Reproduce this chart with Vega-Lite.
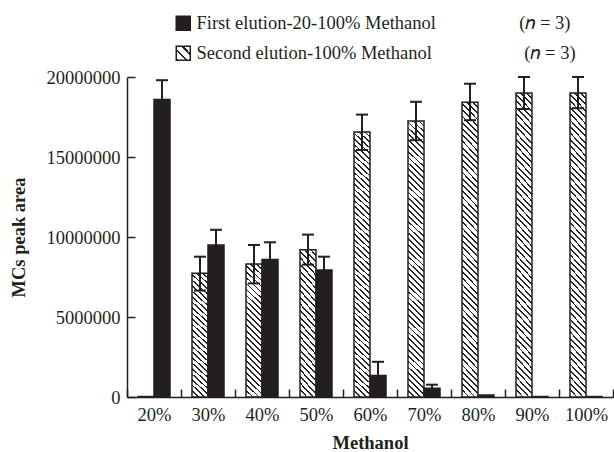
{
  "$schema": "https://vega.github.io/schema/vega-lite/v6.json",
  "width": 486,
  "height": 320,
  "autosize": {"type": "none"},
  "padding": {"left": 127, "top": 77, "right": 1, "bottom": 55},
  "background": "white",
  "config": {
    "view": {"stroke": null},
    "font": "Liberation Serif",
    "axis": {
      "grid": false,
      "domainColor": "#231f20",
      "domainWidth": 1.5,
      "tickColor": "#231f20",
      "tickWidth": 1.5,
      "tickSize": -8,
      "labelFont": "Liberation Serif",
      "labelFontSize": 18.5,
      "labelColor": "#231f20",
      "titleFont": "Liberation Serif",
      "titleFontSize": 18.5,
      "titleFontWeight": "bold",
      "titleColor": "#231f20"
    }
  },
  "data": {
    "values": [
      {"conc": "20%", "series": "Second elution-100% Methanol", "value": 30000, "lo": null, "hi": null},
      {"conc": "30%", "series": "Second elution-100% Methanol", "value": 7730000, "lo": 6650000, "hi": 8770000},
      {"conc": "40%", "series": "Second elution-100% Methanol", "value": 8310000, "lo": 7100000, "hi": 9500000},
      {"conc": "50%", "series": "Second elution-100% Methanol", "value": 9200000, "lo": 8270000, "hi": 10150000},
      {"conc": "60%", "series": "Second elution-100% Methanol", "value": 16560000, "lo": 15440000, "hi": 17650000},
      {"conc": "70%", "series": "Second elution-100% Methanol", "value": 17250000, "lo": 16050000, "hi": 18450000},
      {"conc": "80%", "series": "Second elution-100% Methanol", "value": 18420000, "lo": 17300000, "hi": 19580000},
      {"conc": "90%", "series": "Second elution-100% Methanol", "value": 19000000, "lo": 18000000, "hi": 20000000},
      {"conc": "100%", "series": "Second elution-100% Methanol", "value": 19000000, "lo": 18050000, "hi": 20000000},
      {"conc": "20%", "series": "First elution-20-100% Methanol", "value": 18600000, "lo": 17400000, "hi": 19800000},
      {"conc": "30%", "series": "First elution-20-100% Methanol", "value": 9500000, "lo": 8550000, "hi": 10450000},
      {"conc": "40%", "series": "First elution-20-100% Methanol", "value": 8600000, "lo": 7550000, "hi": 9670000},
      {"conc": "50%", "series": "First elution-20-100% Methanol", "value": 7940000, "lo": 7100000, "hi": 8770000},
      {"conc": "60%", "series": "First elution-20-100% Methanol", "value": 1350000, "lo": 500000, "hi": 2200000},
      {"conc": "70%", "series": "First elution-20-100% Methanol", "value": 540000, "lo": 300000, "hi": 770000},
      {"conc": "80%", "series": "First elution-20-100% Methanol", "value": 120000, "lo": null, "hi": null},
      {"conc": "90%", "series": "First elution-20-100% Methanol", "value": 30000, "lo": null, "hi": null},
      {"conc": "100%", "series": "First elution-20-100% Methanol", "value": 30000, "lo": null, "hi": null}
    ]
  },
  "encoding": {
    "x": {
      "field": "conc",
      "type": "nominal",
      "sort": ["20%", "30%", "40%", "50%", "60%", "70%", "80%", "90%", "100%"],
      "scale": {"paddingInner": 0, "paddingOuter": 0},
      "axis": {"title": "Methanol", "labelAngle": 0, "tickBand": "extent", "labelPadding": 16, "titlePadding": 10}
    },
    "xOffset": {
      "field": "series",
      "type": "nominal",
      "scale": {"domain": ["Second elution-100% Methanol", "First elution-20-100% Methanol"], "paddingInner": 0, "paddingOuter": 0.6875}
    }
  },
  "layer": [
    {
      "mark": {"type": "bar", "stroke": "#231f20", "strokeWidth": 1.5},
      "encoding": {
        "y": {
          "field": "value",
          "type": "quantitative",
          "scale": {"domain": [0, 20000000], "nice": false},
          "axis": {"title": "MCs peak area", "values": [0, 5000000, 10000000, 15000000, 20000000], "format": "d", "labelPadding": 15, "titlePadding": 18}
        },
        "fill": {
          "condition": [
            {
              "test": "datum.series === 'Second elution-100% Methanol' && datum.value > 12000000",
              "value": {
                "gradient": "linear", "x1": 0, "y1": 1, "x2": 0.0591, "y2": -0.0528,
                "stops": [
                  {"offset": 0, "color": "#222"}, {"offset": 0.006, "color": "#222"}, {"offset": 0.006, "color": "#fff"}, {"offset": 0.02, "color": "#fff"},
                  {"offset": 0.02, "color": "#222"}, {"offset": 0.026, "color": "#222"}, {"offset": 0.026, "color": "#fff"}, {"offset": 0.04, "color": "#fff"},
                  {"offset": 0.04, "color": "#222"}, {"offset": 0.046, "color": "#222"}, {"offset": 0.046, "color": "#fff"}, {"offset": 0.06, "color": "#fff"},
                  {"offset": 0.06, "color": "#222"}, {"offset": 0.066, "color": "#222"}, {"offset": 0.066, "color": "#fff"}, {"offset": 0.08, "color": "#fff"},
                  {"offset": 0.08, "color": "#222"}, {"offset": 0.086, "color": "#222"}, {"offset": 0.086, "color": "#fff"}, {"offset": 0.1, "color": "#fff"},
                  {"offset": 0.1, "color": "#222"}, {"offset": 0.106, "color": "#222"}, {"offset": 0.106, "color": "#fff"}, {"offset": 0.12, "color": "#fff"},
                  {"offset": 0.12, "color": "#222"}, {"offset": 0.126, "color": "#222"}, {"offset": 0.126, "color": "#fff"}, {"offset": 0.14, "color": "#fff"},
                  {"offset": 0.14, "color": "#222"}, {"offset": 0.146, "color": "#222"}, {"offset": 0.146, "color": "#fff"}, {"offset": 0.16, "color": "#fff"},
                  {"offset": 0.16, "color": "#222"}, {"offset": 0.166, "color": "#222"}, {"offset": 0.166, "color": "#fff"}, {"offset": 0.18, "color": "#fff"},
                  {"offset": 0.18, "color": "#222"}, {"offset": 0.186, "color": "#222"}, {"offset": 0.186, "color": "#fff"}, {"offset": 0.2, "color": "#fff"},
                  {"offset": 0.2, "color": "#222"}, {"offset": 0.206, "color": "#222"}, {"offset": 0.206, "color": "#fff"}, {"offset": 0.22, "color": "#fff"},
                  {"offset": 0.22, "color": "#222"}, {"offset": 0.226, "color": "#222"}, {"offset": 0.226, "color": "#fff"}, {"offset": 0.24, "color": "#fff"},
                  {"offset": 0.24, "color": "#222"}, {"offset": 0.246, "color": "#222"}, {"offset": 0.246, "color": "#fff"}, {"offset": 0.26, "color": "#fff"},
                  {"offset": 0.26, "color": "#222"}, {"offset": 0.266, "color": "#222"}, {"offset": 0.266, "color": "#fff"}, {"offset": 0.28, "color": "#fff"},
                  {"offset": 0.28, "color": "#222"}, {"offset": 0.286, "color": "#222"}, {"offset": 0.286, "color": "#fff"}, {"offset": 0.3, "color": "#fff"},
                  {"offset": 0.3, "color": "#222"}, {"offset": 0.306, "color": "#222"}, {"offset": 0.306, "color": "#fff"}, {"offset": 0.32, "color": "#fff"},
                  {"offset": 0.32, "color": "#222"}, {"offset": 0.326, "color": "#222"}, {"offset": 0.326, "color": "#fff"}, {"offset": 0.34, "color": "#fff"},
                  {"offset": 0.34, "color": "#222"}, {"offset": 0.346, "color": "#222"}, {"offset": 0.346, "color": "#fff"}, {"offset": 0.36, "color": "#fff"},
                  {"offset": 0.36, "color": "#222"}, {"offset": 0.366, "color": "#222"}, {"offset": 0.366, "color": "#fff"}, {"offset": 0.38, "color": "#fff"},
                  {"offset": 0.38, "color": "#222"}, {"offset": 0.386, "color": "#222"}, {"offset": 0.386, "color": "#fff"}, {"offset": 0.4, "color": "#fff"},
                  {"offset": 0.4, "color": "#222"}, {"offset": 0.406, "color": "#222"}, {"offset": 0.406, "color": "#fff"}, {"offset": 0.42, "color": "#fff"},
                  {"offset": 0.42, "color": "#222"}, {"offset": 0.426, "color": "#222"}, {"offset": 0.426, "color": "#fff"}, {"offset": 0.44, "color": "#fff"},
                  {"offset": 0.44, "color": "#222"}, {"offset": 0.446, "color": "#222"}, {"offset": 0.446, "color": "#fff"}, {"offset": 0.46, "color": "#fff"},
                  {"offset": 0.46, "color": "#222"}, {"offset": 0.466, "color": "#222"}, {"offset": 0.466, "color": "#fff"}, {"offset": 0.48, "color": "#fff"},
                  {"offset": 0.48, "color": "#222"}, {"offset": 0.486, "color": "#222"}, {"offset": 0.486, "color": "#fff"}, {"offset": 0.5, "color": "#fff"},
                  {"offset": 0.5, "color": "#222"}, {"offset": 0.506, "color": "#222"}, {"offset": 0.506, "color": "#fff"}, {"offset": 0.52, "color": "#fff"},
                  {"offset": 0.52, "color": "#222"}, {"offset": 0.526, "color": "#222"}, {"offset": 0.526, "color": "#fff"}, {"offset": 0.54, "color": "#fff"},
                  {"offset": 0.54, "color": "#222"}, {"offset": 0.546, "color": "#222"}, {"offset": 0.546, "color": "#fff"}, {"offset": 0.56, "color": "#fff"},
                  {"offset": 0.56, "color": "#222"}, {"offset": 0.566, "color": "#222"}, {"offset": 0.566, "color": "#fff"}, {"offset": 0.58, "color": "#fff"},
                  {"offset": 0.58, "color": "#222"}, {"offset": 0.586, "color": "#222"}, {"offset": 0.586, "color": "#fff"}, {"offset": 0.6, "color": "#fff"},
                  {"offset": 0.6, "color": "#222"}, {"offset": 0.606, "color": "#222"}, {"offset": 0.606, "color": "#fff"}, {"offset": 0.62, "color": "#fff"},
                  {"offset": 0.62, "color": "#222"}, {"offset": 0.626, "color": "#222"}, {"offset": 0.626, "color": "#fff"}, {"offset": 0.64, "color": "#fff"},
                  {"offset": 0.64, "color": "#222"}, {"offset": 0.646, "color": "#222"}, {"offset": 0.646, "color": "#fff"}, {"offset": 0.66, "color": "#fff"},
                  {"offset": 0.66, "color": "#222"}, {"offset": 0.666, "color": "#222"}, {"offset": 0.666, "color": "#fff"}, {"offset": 0.68, "color": "#fff"},
                  {"offset": 0.68, "color": "#222"}, {"offset": 0.686, "color": "#222"}, {"offset": 0.686, "color": "#fff"}, {"offset": 0.7, "color": "#fff"},
                  {"offset": 0.7, "color": "#222"}, {"offset": 0.706, "color": "#222"}, {"offset": 0.706, "color": "#fff"}, {"offset": 0.72, "color": "#fff"},
                  {"offset": 0.72, "color": "#222"}, {"offset": 0.726, "color": "#222"}, {"offset": 0.726, "color": "#fff"}, {"offset": 0.74, "color": "#fff"},
                  {"offset": 0.74, "color": "#222"}, {"offset": 0.746, "color": "#222"}, {"offset": 0.746, "color": "#fff"}, {"offset": 0.76, "color": "#fff"},
                  {"offset": 0.76, "color": "#222"}, {"offset": 0.766, "color": "#222"}, {"offset": 0.766, "color": "#fff"}, {"offset": 0.78, "color": "#fff"},
                  {"offset": 0.78, "color": "#222"}, {"offset": 0.786, "color": "#222"}, {"offset": 0.786, "color": "#fff"}, {"offset": 0.8, "color": "#fff"},
                  {"offset": 0.8, "color": "#222"}, {"offset": 0.806, "color": "#222"}, {"offset": 0.806, "color": "#fff"}, {"offset": 0.82, "color": "#fff"},
                  {"offset": 0.82, "color": "#222"}, {"offset": 0.826, "color": "#222"}, {"offset": 0.826, "color": "#fff"}, {"offset": 0.84, "color": "#fff"},
                  {"offset": 0.84, "color": "#222"}, {"offset": 0.846, "color": "#222"}, {"offset": 0.846, "color": "#fff"}, {"offset": 0.86, "color": "#fff"},
                  {"offset": 0.86, "color": "#222"}, {"offset": 0.866, "color": "#222"}, {"offset": 0.866, "color": "#fff"}, {"offset": 0.88, "color": "#fff"},
                  {"offset": 0.88, "color": "#222"}, {"offset": 0.886, "color": "#222"}, {"offset": 0.886, "color": "#fff"}, {"offset": 0.9, "color": "#fff"},
                  {"offset": 0.9, "color": "#222"}, {"offset": 0.906, "color": "#222"}, {"offset": 0.906, "color": "#fff"}, {"offset": 0.92, "color": "#fff"},
                  {"offset": 0.92, "color": "#222"}, {"offset": 0.926, "color": "#222"}, {"offset": 0.926, "color": "#fff"}, {"offset": 0.94, "color": "#fff"},
                  {"offset": 0.94, "color": "#222"}, {"offset": 0.946, "color": "#222"}, {"offset": 0.946, "color": "#fff"}, {"offset": 0.96, "color": "#fff"},
                  {"offset": 0.96, "color": "#222"}, {"offset": 0.966, "color": "#222"}, {"offset": 0.966, "color": "#fff"}, {"offset": 0.98, "color": "#fff"},
                  {"offset": 0.98, "color": "#222"}, {"offset": 0.986, "color": "#222"}, {"offset": 0.986, "color": "#fff"}, {"offset": 1, "color": "#fff"}
                ]
              }
            },
            {
              "test": "datum.series === 'Second elution-100% Methanol'",
              "value": {
                "gradient": "linear", "x1": 0, "y1": 1, "x2": 0.1307, "y2": -0.103,
                "stops": [
                  {"offset": 0, "color": "#222"}, {"offset": 0.012, "color": "#222"}, {"offset": 0.012, "color": "#fff"}, {"offset": 0.04, "color": "#fff"},
                  {"offset": 0.04, "color": "#222"}, {"offset": 0.052, "color": "#222"}, {"offset": 0.052, "color": "#fff"}, {"offset": 0.08, "color": "#fff"},
                  {"offset": 0.08, "color": "#222"}, {"offset": 0.092, "color": "#222"}, {"offset": 0.092, "color": "#fff"}, {"offset": 0.12, "color": "#fff"},
                  {"offset": 0.12, "color": "#222"}, {"offset": 0.132, "color": "#222"}, {"offset": 0.132, "color": "#fff"}, {"offset": 0.16, "color": "#fff"},
                  {"offset": 0.16, "color": "#222"}, {"offset": 0.172, "color": "#222"}, {"offset": 0.172, "color": "#fff"}, {"offset": 0.2, "color": "#fff"},
                  {"offset": 0.2, "color": "#222"}, {"offset": 0.212, "color": "#222"}, {"offset": 0.212, "color": "#fff"}, {"offset": 0.24, "color": "#fff"},
                  {"offset": 0.24, "color": "#222"}, {"offset": 0.252, "color": "#222"}, {"offset": 0.252, "color": "#fff"}, {"offset": 0.28, "color": "#fff"},
                  {"offset": 0.28, "color": "#222"}, {"offset": 0.292, "color": "#222"}, {"offset": 0.292, "color": "#fff"}, {"offset": 0.32, "color": "#fff"},
                  {"offset": 0.32, "color": "#222"}, {"offset": 0.332, "color": "#222"}, {"offset": 0.332, "color": "#fff"}, {"offset": 0.36, "color": "#fff"},
                  {"offset": 0.36, "color": "#222"}, {"offset": 0.372, "color": "#222"}, {"offset": 0.372, "color": "#fff"}, {"offset": 0.4, "color": "#fff"},
                  {"offset": 0.4, "color": "#222"}, {"offset": 0.412, "color": "#222"}, {"offset": 0.412, "color": "#fff"}, {"offset": 0.44, "color": "#fff"},
                  {"offset": 0.44, "color": "#222"}, {"offset": 0.452, "color": "#222"}, {"offset": 0.452, "color": "#fff"}, {"offset": 0.48, "color": "#fff"},
                  {"offset": 0.48, "color": "#222"}, {"offset": 0.492, "color": "#222"}, {"offset": 0.492, "color": "#fff"}, {"offset": 0.52, "color": "#fff"},
                  {"offset": 0.52, "color": "#222"}, {"offset": 0.532, "color": "#222"}, {"offset": 0.532, "color": "#fff"}, {"offset": 0.56, "color": "#fff"},
                  {"offset": 0.56, "color": "#222"}, {"offset": 0.572, "color": "#222"}, {"offset": 0.572, "color": "#fff"}, {"offset": 0.6, "color": "#fff"},
                  {"offset": 0.6, "color": "#222"}, {"offset": 0.612, "color": "#222"}, {"offset": 0.612, "color": "#fff"}, {"offset": 0.64, "color": "#fff"},
                  {"offset": 0.64, "color": "#222"}, {"offset": 0.652, "color": "#222"}, {"offset": 0.652, "color": "#fff"}, {"offset": 0.68, "color": "#fff"},
                  {"offset": 0.68, "color": "#222"}, {"offset": 0.692, "color": "#222"}, {"offset": 0.692, "color": "#fff"}, {"offset": 0.72, "color": "#fff"},
                  {"offset": 0.72, "color": "#222"}, {"offset": 0.732, "color": "#222"}, {"offset": 0.732, "color": "#fff"}, {"offset": 0.76, "color": "#fff"},
                  {"offset": 0.76, "color": "#222"}, {"offset": 0.772, "color": "#222"}, {"offset": 0.772, "color": "#fff"}, {"offset": 0.8, "color": "#fff"},
                  {"offset": 0.8, "color": "#222"}, {"offset": 0.812, "color": "#222"}, {"offset": 0.812, "color": "#fff"}, {"offset": 0.84, "color": "#fff"},
                  {"offset": 0.84, "color": "#222"}, {"offset": 0.852, "color": "#222"}, {"offset": 0.852, "color": "#fff"}, {"offset": 0.88, "color": "#fff"},
                  {"offset": 0.88, "color": "#222"}, {"offset": 0.892, "color": "#222"}, {"offset": 0.892, "color": "#fff"}, {"offset": 0.92, "color": "#fff"},
                  {"offset": 0.92, "color": "#222"}, {"offset": 0.932, "color": "#222"}, {"offset": 0.932, "color": "#fff"}, {"offset": 0.96, "color": "#fff"},
                  {"offset": 0.96, "color": "#222"}, {"offset": 0.972, "color": "#222"}, {"offset": 0.972, "color": "#fff"}, {"offset": 1, "color": "#fff"}
                ]
              }
            }
          ],
          "field": "series",
          "type": "nominal",
          "scale": {
            "domain": ["First elution-20-100% Methanol", "Second elution-100% Methanol"],
            "range": ["#231f20", {"expr": "{gradient: 'linear', x1: 0, y1: 1, x2: 1, y2: 0, stops: [{offset: 0, color: '#222'}, {offset: 0.08, color: '#222'}, {offset: 0.08, color: '#fff'}, {offset: 0.333, color: '#fff'}, {offset: 0.333, color: '#222'}, {offset: 0.417, color: '#222'}, {offset: 0.417, color: '#fff'}, {offset: 0.667, color: '#fff'}, {offset: 0.667, color: '#222'}, {offset: 0.75, color: '#222'}, {offset: 0.75, color: '#fff'}, {offset: 1, color: '#fff'}]}"}]
          },
          "legend": {
            "title": null,
            "orient": "none",
            "legendX": 47,
            "legendY": -63,
            "direction": "vertical",
            "padding": 0,
            "symbolType": "square",
            "symbolSize": 196,
            "symbolStrokeWidth": 1.5,
            "symbolStrokeColor": "#231f20",
            "symbolOpacity": 1,
            "labelFont": "Liberation Serif",
            "labelFontSize": 18.5,
            "labelColor": "#231f20",
            "labelLimit": 600,
            "labelOffset": 4,
            "rowPadding": 9,
            "labelExpr": "datum.value === 'First elution-20-100% Methanol' ? datum.label + '\u00a0\u00a0\u00a0\u00a0\u00a0\u00a0\u00a0\u00a0\u00a0\u00a0\u00a0\u00a0\u00a0\u00a0\u00a0\u00a0\u00a0\u00a0(\ud835\udc5b = 3)' : datum.label + '\u00a0\u00a0\u00a0\u00a0\u00a0\u00a0\u00a0\u00a0\u00a0\u00a0\u00a0\u00a0\u00a0\u00a0\u00a0\u00a0\u00a0\u00a0\u00a0\u00a0(\ud835\udc5b = 3)'"
          }
        }
      }
    },
    {
      "mark": {"type": "rule", "color": "#231f20", "strokeWidth": 2},
      "encoding": {
        "y": {"field": "lo", "type": "quantitative"},
        "y2": {"field": "hi"}
      }
    },
    {
      "mark": {"type": "tick", "color": "#231f20", "thickness": 2, "size": 12, "opacity": 1},
      "encoding": {
        "y": {"field": "hi", "type": "quantitative"}
      }
    },
    {
      "mark": {"type": "tick", "color": "#231f20", "thickness": 2, "size": 12, "opacity": 1},
      "encoding": {
        "y": {"field": "lo", "type": "quantitative"}
      }
    }
  ]
}
